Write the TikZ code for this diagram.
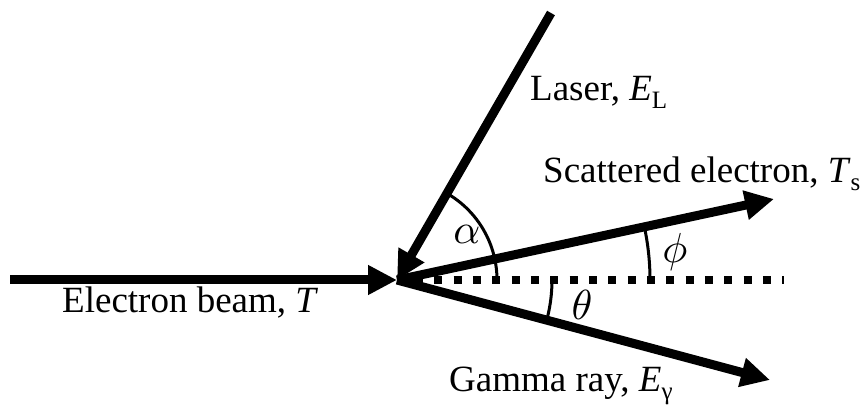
\documentclass[tikz,border=0pt]{standalone}
\usepackage[no-math]{fontspec}
\setmainfont{Liberation Serif}
\usetikzlibrary{arrows.meta}
\newcommand{\mysub}[1]{\raisebox{-8pt}{\fontsize{25}{30}\selectfont #1}}
\newcommand{\biggreek}[1]{\scalebox{4.2}{$#1$}}
\tikzset{
  ray/.style={line width=9pt, -{Triangle[length=29pt,width=28pt]}},
  anglearc/.style={line width=3pt},
  lbl/.style={font=\fontsize{37}{44}\selectfont, inner sep=0pt, anchor=base west},
  greek/.style={inner sep=0pt},
  dotline/.style={line width=8pt, dash pattern=on 8pt off 11.33pt},
}
\begin{document}
\begin{tikzpicture}[x=1pt,y=1pt]
\useasboundingbox (0,0) rectangle (866,406);
\coordinate (O) at (397,126);
\coordinate (beamstart) at (10,126);
\coordinate (laserstart) at (551,393);
\coordinate (stip) at (774,207);
\coordinate (gtip) at (770,26);
\coordinate (dotA) at (415,126);
\coordinate (dotB) at (784,126);
% dotted reference line
\draw[dotline] (dotA) -- (dotB);
% rays
\draw[ray] (beamstart) -- (O);
\draw[ray] (laserstart) -- (O);
\draw[ray] (O) -- (stip);
\draw[ray] (O) -- (gtip);
% angle arcs
\draw[anglearc] ([shift={(0:100)}]O) arc[start angle=0,end angle=60,radius=100];
\draw[anglearc] ([shift={(0:253)}]O) arc[start angle=0,end angle=12.1,radius=253];
\draw[anglearc] ([shift={(0:155)}]O) arc[start angle=0,end angle=-15,radius=155];
% greek labels
\node[greek] (alpha) at (467,172) {\biggreek{\alpha}};
\node[greek] (phi) at (675,154) {\biggreek{\phi}};
\node[greek] (theta) at (582,101) {\biggreek{\theta}};
% text labels
\node[lbl] (beamlbl) at (62,93) {Electron beam, \textit{T}};
\node[lbl] (laserlbl) at (530,305) {Laser, \textit{E}\mysub{L}};
\node[lbl] (scatlbl) at (543,223) {Scattered electron, \textit{T}\mysub{s}};
\node[lbl] (gammalbl) at (449,14) {Gamma ray, \textit{E}\mysub{γ}};
\end{tikzpicture}
\end{document}
